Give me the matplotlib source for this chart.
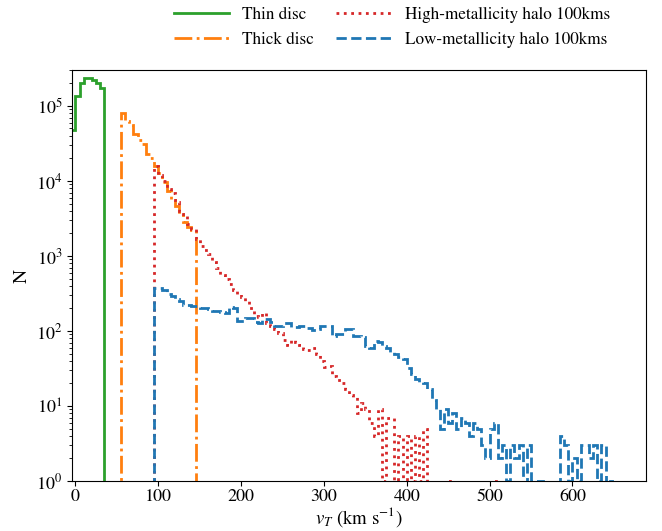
import matplotlib
matplotlib.use("Agg")
import matplotlib.pyplot as plt
import numpy as np

# counts per 5 km/s bin
thin_edges = np.arange(-5, 40, 5)
thin_counts = [47000, 136000, 200000, 233000, 235000, 220000, 200000, 175000]

thick_edges = np.arange(55, 150, 5)
thick_counts = [79400, 63100, 55000, 42700, 35500, 30900, 22900, 20400, 15800, 12900,
                9550, 7240, 5620, 4680, 3630, 2820, 2400, 2190]

halo_edges = np.arange(95, 655, 5)
high_counts = [
    16000, 12000, 10000, 7900, 6900, 5200, 4000, 3400, 2700, 2300,
    1660, 1350, 1200, 1070, 830, 690, 560, 500, 420, 350,
    316, 280, 250, 200, 158, 155, 174, 126, 115, 105,
    93, 76, 66, 76, 72, 66, 58, 56, 60, 50,
    40, 33, 34, 25, 22, 20, 17, 14, 13, 8,
    11, 9, 6, 4, 9, 1, 7, 7, 0, 4,
    0, 4, 1, 4, 1, 5, 0, 0, 0, 0,
    0, 1, 0, 0, 0, 0, 0, 0, 0, 0,
    0, 0, 1, 0, 0, 0, 0, 0, 0, 0,
    0, 0, 0, 0, 0, 0, 0, 0, 0, 0,
    0, 0, 0, 0, 0, 0, 0, 0, 0, 0, 0,
]
low_counts = [
    376, 372, 355, 316, 295, 270, 251, 224, 219, 214,
    214, 204, 204, 195, 182, 182, 178, 174, 209, 200,
    138, 138, 151, 151, 132, 126, 145, 145, 132, 117,
    117, 126, 126, 112, 112, 117, 117, 110, 102, 107,
    117, 117, 117, 87, 91, 91, 107, 107, 85, 85,
    83, 63, 60, 74, 71, 63, 60, 52, 50, 45,
    43, 32, 27, 23, 21, 20, 17, 12, 9, 5,
    9, 6, 8, 5, 7, 6, 4, 6, 5, 3,
    2, 5, 6, 2, 3, 1, 3, 2, 3, 0,
    3, 1, 1, 1, 0, 0, 0, 0, 4, 3,
    1, 2, 1, 3, 3, 2, 3, 1, 3, 0, 1,
]

plt.rcParams["font.family"] = "STIXGeneral"
plt.rcParams["mathtext.fontset"] = "stix"
plt.rcParams["font.size"] = 13

fig, ax = plt.subplots(figsize=(6.62, 5.31), dpi=100)
fig.subplots_adjust(left=0.109, right=0.976, bottom=0.094, top=0.868)

lw = 2.0
ax.stairs(thin_counts, thin_edges, baseline=0, color="tab:green", lw=lw,
          ls="-", label="Thin disc")
ax.stairs(thick_counts, thick_edges, baseline=0, color="tab:orange", lw=lw,
          ls="-.", label="Thick disc")
ax.stairs(high_counts, halo_edges, baseline=0, color="tab:red", lw=lw,
          ls=":", label="High-metallicity halo 100kms")
ax.stairs(low_counts, halo_edges, baseline=0, color="tab:blue", lw=lw,
          ls="--", label="Low-metallicity halo 100kms")

ax.set_yscale("log")
ax.set_ylim(1, 3e5)
ax.set_xlim(-4, 689)
ax.tick_params(axis="x", pad=2)
ax.set_xlabel(r"$v_T$ (km s$^{-1}$)", fontsize=13.5, labelpad=0)
ax.set_ylabel("N", fontsize=14)
ax.legend(loc="lower center", bbox_to_anchor=(0.557, 1.017), ncol=2, frameon=False,
          columnspacing=1.3, handlelength=3.2, fontsize=12.3)

fig.savefig("out.png", dpi=100)
